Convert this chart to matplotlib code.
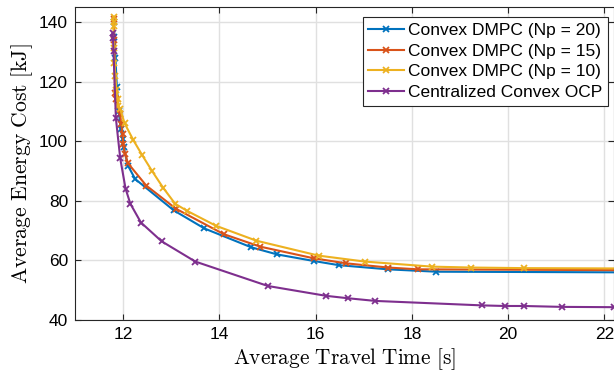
import matplotlib
matplotlib.use("Agg")
import matplotlib.pyplot as plt

# values
np20_time = [11.80, 11.82, 11.84, 11.87, 11.91, 11.95, 11.99, 12.01, 12.10, 12.25,
             13.05, 13.69, 14.66, 15.20, 15.96, 16.48, 17.50, 18.51, 24.0]
np20_cost = [140.0, 135.0, 128.0, 118.0, 110.0, 104.0, 100.7, 97.9, 91.8, 87.3,
             76.8, 70.7, 64.4, 62.0, 59.8, 58.4, 57.0, 56.2, 55.9]

np15_time = [11.80, 11.82, 11.83, 11.85, 11.94, 11.96, 11.99, 12.00, 12.04, 12.10,
             12.48, 13.10, 14.09, 14.85, 15.96, 16.64, 17.50, 18.13, 24.0]
np15_cost = [141.0, 134.0, 116.2, 114.0, 109.0, 105.7, 102.3, 99.0, 95.7, 92.6,
             85.1, 77.3, 68.8, 64.6, 60.7, 59.0, 57.6, 57.0, 56.6]

np10_time = [11.80, 11.80, 11.80, 11.81, 11.82, 11.84, 11.86, 11.89, 11.90, 11.94,
             12.03, 12.21, 12.40, 12.60, 12.83, 13.08, 13.33, 13.93, 14.77, 16.06,
             17.02, 18.42, 19.23, 20.33, 24.0]
np10_cost = [141.6, 140.1, 138.7, 131.2, 126.2, 122.0, 117.0, 114.0, 111.8, 110.7,
             106.0, 100.4, 95.2, 90.0, 84.4, 79.0, 76.6, 71.6, 66.6, 61.6,
             59.6, 57.9, 57.6, 57.4, 57.2]

ocp_time = [11.78, 11.79, 11.80, 11.85, 11.94, 12.05, 12.15, 12.37, 12.80, 13.50,
            15.01, 16.22, 16.67, 17.24, 19.46, 19.93, 20.33, 21.12, 22.20]
ocp_cost = [136.2, 134.5, 130.1, 107.6, 94.2, 84.1, 79.0, 72.7, 66.4, 59.6,
            51.4, 48.1, 47.3, 46.4, 44.9, 44.7, 44.7, 44.4, 44.3]

series = [
    (np20_time, np20_cost, "#0072BD", "Convex DMPC (Np = 20)"),
    (np15_time, np15_cost, "#D95319", "Convex DMPC (Np = 15)"),
    (np10_time, np10_cost, "#EDB120", "Convex DMPC (Np = 10)"),
    (ocp_time, ocp_cost, "#7E2F8E", "Centralized Convex OCP"),
]

plt.rcParams["font.family"] = ["Liberation Sans", "DejaVu Sans"]
plt.rcParams["mathtext.fontset"] = "cm"

fig = plt.figure(figsize=(6.14, 3.77), dpi=100)
ax = fig.add_axes([75 / 614, 57 / 377, 1 - 75 / 614, 313 / 377])

for t, c, col, lab in series:
    ax.plot(t, c, color=col, lw=1.5, marker="x", ms=5, mew=1.3, label=lab)

ax.set_xlim(11.0, 22.2)
ax.set_ylim(40, 145)
ax.set_xticks([12, 14, 16, 18, 20, 22])
ax.set_yticks([40, 60, 80, 100, 120, 140])
ax.grid(True, color="#e0e0e0", lw=1.0)
ax.set_axisbelow(True)
ax.tick_params(direction="in", top=True, right=True, labelsize=12.5,
               color="#262626", length=4, width=0.8, pad=5)
for s in ax.spines.values():
    s.set_color("#262626")
    s.set_linewidth(0.8)

ax.set_xlabel(r"$\mathrm{Average\ Travel\ Time\ [s]}$", fontsize=15.3, labelpad=3)
ax.set_ylabel(r"$\mathrm{Average\ Energy\ Cost\ [kJ]}$", fontsize=15.6, labelpad=3)

leg = ax.legend(loc="upper right", bbox_to_anchor=(533 / 539, 0.968),
                fontsize=12.5, fancybox=False, framealpha=1, edgecolor="#262626",
                handlelength=2.05, handletextpad=0.25, borderpad=0.32,
                labelspacing=0.33, borderaxespad=0)
leg.get_frame().set_linewidth(0.8)

fig.savefig("out.png", dpi=100)
